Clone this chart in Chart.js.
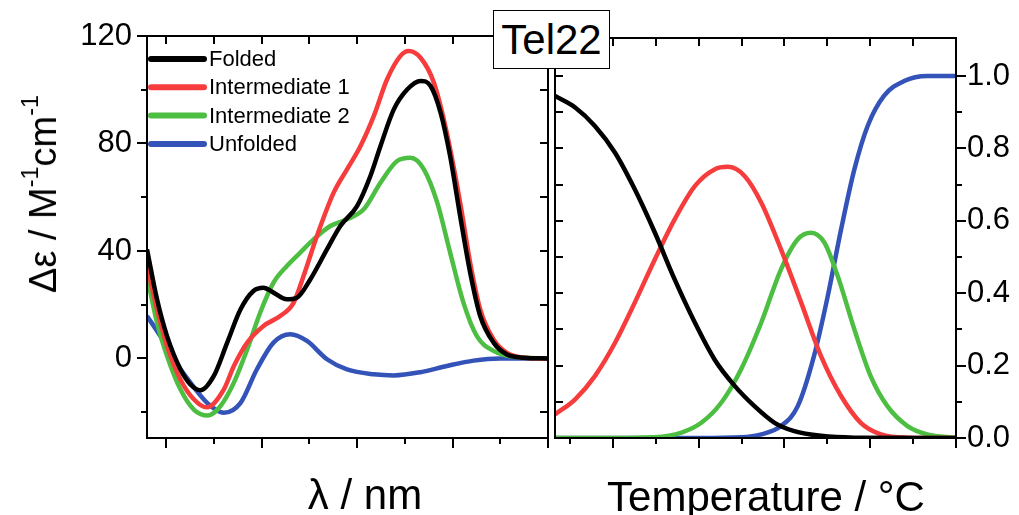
<!DOCTYPE html>
<html>
<head>
<meta charset="utf-8">
<script src="https://cdn.jsdelivr.net/npm/chart.js@4.4.1/dist/chart.umd.min.js"></script>
<style>
  html, body { margin: 0; padding: 0; background: #fff; }
  #wrap { position: relative; width: 1019px; height: 515px; overflow: hidden; font-family: 'Liberation Sans', Arial, sans-serif; color: #000; }
  #cdChart { position: absolute; left: 0; top: 0; }
  #meltChart { position: absolute; left: 552px; top: 0; }
  .lbl { position: absolute; white-space: nowrap; line-height: 1; }
  .lbl sup { font-size: 62%; vertical-align: 0.75em; line-height: 0; }
  #yTitle { left: 43px; top: 194px; font-size: 38px; transform: translate(-50%, -50%) rotate(-90deg); }
  #xTitleCd { left: 365px; top: 474px; font-size: 42px; transform: translateX(-50%); }
  #xTitleMelt { left: 766px; top: 476px; font-size: 42px; transform: translateX(-50%); }
  #tag { position: absolute; left: 493px; top: 10px; width: 115px; height: 57px; border: 1.5px solid #000; background: #fff;
         font-size: 42px; display: flex; align-items: center; justify-content: center; z-index: 2; }
</style>
</head>
<body>
<div id="wrap">
  <canvas id="cdChart" width="552" height="515"></canvas>
  <canvas id="meltChart" width="467" height="515"></canvas>
  <div class="lbl" id="yTitle">Δε / M<sup>-1</sup>cm<sup>-1</sup></div>
  <div class="lbl" id="xTitleCd">λ / nm</div>
  <div class="lbl" id="xTitleMelt">Temperature / °C</div>
  <div id="tag">Tel22</div>
</div>
<script>
// CD spectra (wavelength in nm, Δε in M-1 cm-1)
const cdFoldedNm = [226, 228.1, 230.2, 233, 235.1, 237.2, 240, 242.8, 245.6, 248.3, 250.4, 252.5, 255.3, 257.4, 260.2, 263.7, 266.5, 270, 272.8, 274.9, 277.7, 280.5, 283.3, 285.4, 287.5, 289.5, 291.6, 293.7, 295.8, 298.6, 301.4, 304.9, 310];
const cdFolded   = [40.6, 22, 8.3, -4, -9.7, -11.8, -6.5, 5.9, 18.3, 25.1, 26.3, 24.5, 22, 22.6, 29.4, 40.6, 49.3, 56.7, 67.9, 79, 92.7, 100.1, 103.3, 101.4, 91.5, 75.3, 53, 31.9, 15.8, 5.9, 1.5, 0.3, 0];
const cdInter1Nm = [226, 228.1, 230.2, 233, 235.8, 238.5, 242.1, 244.2, 247, 250.4, 253.9, 256.7, 258.8, 261.6, 265.1, 267.9, 270.7, 273.5, 276.3, 279.1, 280.8, 283.3, 286.1, 288.8, 291.6, 293.7, 295.8, 298.6, 301.4, 304.9, 310];
const cdInter1   = [34.4, 18.3, 4.6, -7.8, -15.2, -18.2, -11.5, -2.8, 5.9, 12.1, 15.8, 20.7, 30.7, 45.6, 61.7, 70.4, 79, 90.2, 103.9, 112.6, 114.4, 111.9, 102.6, 84, 58, 35.6, 18.3, 7.1, 2.1, 0.3, 0];
const cdInter2Nm = [226, 228.1, 230.2, 233, 235.8, 238.8, 241.4, 244.2, 247, 249.7, 252.5, 255.3, 258.1, 260.9, 264.4, 267.9, 271.4, 274.9, 278.4, 281.2, 284, 286.8, 289.5, 292.3, 295.1, 298.6, 302.8, 310];
const cdInter2   = [30.7, 13.3, 0.9, -11.5, -19, -21.2, -17.7, -9, 3.4, 17, 28.2, 34.4, 39.4, 44.3, 49.3, 51.8, 55.5, 65.4, 73.5, 74.7, 70.4, 58, 39.4, 20.7, 8.3, 2.8, 0.6, 0];
const cdUnfoldNm = [226, 228.8, 231.6, 235.1, 238.6, 242.1, 245.6, 249, 252.5, 256, 259.5, 263.7, 267.9, 273.5, 277.7, 283.3, 288.8, 294.4, 300, 310];
const cdUnfold   = [15.8, 8.3, -0.3, -9, -16.5, -20.2, -16.5, -4.1, 5.9, 9, 6.5, -0.3, -4.1, -5.9, -6.3, -5.1, -2.8, -0.8, 0, 0];

// Melting populations (temperature in °C, fraction)
const meltFoldedT = [6.5, 11.2, 15.8, 20.5, 25.1, 29.8, 34.4, 39.1, 43.7, 48.4, 53, 57.7, 62.3, 68.5, 76.3, 100];
const meltFolded  = [0.945, 0.913, 0.862, 0.788, 0.687, 0.567, 0.438, 0.319, 0.217, 0.144, 0.088, 0.042, 0.019, 0.006, 0.001, 0];
const meltInter1T = [6.5, 11.2, 15.8, 20.5, 25.1, 29.8, 34.4, 39.1, 43.7, 46.8, 50.7, 54.6, 59.2, 63.9, 68.5, 73.2, 77.8, 82.5, 88.7, 100];
const meltInter1  = [0.065, 0.107, 0.171, 0.263, 0.374, 0.494, 0.604, 0.696, 0.742, 0.749, 0.724, 0.65, 0.521, 0.374, 0.227, 0.116, 0.042, 0.01, 0.001, 0];
const meltInter2T = [6.5, 20, 29.8, 36, 40.6, 45.3, 49.9, 54.6, 59.2, 63.1, 66.2, 69.3, 72.4, 76.3, 80.1, 84, 88.7, 93.3, 100];
const meltInter2  = [0, 0, 0.002, 0.015, 0.042, 0.098, 0.19, 0.319, 0.466, 0.549, 0.567, 0.54, 0.448, 0.3, 0.171, 0.088, 0.033, 0.01, 0.001];
const meltUnfoldT = [6.5, 40, 49.9, 54.6, 59.2, 63.1, 66.9, 70.1, 73.2, 76.3, 79.4, 83.2, 87.9, 93.3, 100];
const meltUnfold  = [0, 0, 0.002, 0.01, 0.033, 0.088, 0.227, 0.392, 0.576, 0.742, 0.862, 0.945, 0.986, 1.0, 1.0];

const seriesNames = ['Folded', 'Intermediate 1', 'Intermediate 2', 'Unfolded'];
const seriesColors = ['#000000', '#f63c3c', '#4cbe42', '#3453b8'];

// axis ticks
const cdYLabels = [0, 40, 80, 120];
const cdYTicks = [-20, 0, 20, 40, 60, 80, 100, 120];
const cdXTicks = [230, 240, 250, 260, 270, 280, 290, 300, 310];
const cdXMajor = [230, 250, 270, 290, 310];
const meltYLabels = [0, 0.2, 0.4, 0.6, 0.8, 1.0];
const meltYTicks = [0, 0.1, 0.2, 0.3, 0.4, 0.5, 0.6, 0.7, 0.8, 0.9, 1.0];
const meltXTicks = [10, 20, 30, 40, 50, 60, 70, 80, 90, 100];
const meltXMajor = [20, 40, 60, 80, 100];

const zip = (xs, ys) => xs.map((x, i) => ({ x, y: ys[i] }));
const FONT = "'Liberation Sans', Arial, sans-serif";

function line(label, i, data) {
    return {
        label, data,
        borderColor: seriesColors[i],
        borderWidth: 4.5,
        pointRadius: 0,
        fill: false,
        cubicInterpolationMode: 'monotone',
    };
}

// box frame plus in/out tick marks, placed through the chart scales
const frameTicks = {
    id: 'frameTicks',
    afterDatasetsDraw(chart, args, o) {
        const { ctx, chartArea: a, scales: { x, y } } = chart;
        ctx.save();
        ctx.strokeStyle = '#000';
        ctx.lineWidth = 2;
        ctx.lineCap = 'butt';
        ctx.strokeRect(a.left, a.top, a.right - a.left, a.bottom - a.top);
        const seg = (x1, y1, x2, y2) => { ctx.beginPath(); ctx.moveTo(x1, y1); ctx.lineTo(x2, y2); ctx.stroke(); };
        o.xTicks.forEach((v) => {
            const px = Math.round(x.getPixelForValue(v));
            const len = o.xMajor.includes(v) ? 10 : 6;
            seg(px, a.bottom, px, a.bottom + len);
            seg(px, a.top, px, a.top + 8);
        });
        o.yTicks.forEach((v) => {
            const py = Math.round(y.getPixelForValue(v));
            const len = o.yMajor.includes(v) ? 10 : 6;
            if (o.outer === 'left') {
                seg(a.left - len, py, a.left, py);
                seg(a.right, py, a.right - 8, py);
            } else {
                seg(a.right, py, a.right + len, py);
                seg(a.left, py, a.left + 8, py);
            }
        });
        ctx.restore();
    },
};

const lineLegend = {
    id: 'lineLegend',
    afterDatasetsDraw(chart) {
        const { ctx, chartArea: a } = chart;
        ctx.save();
        ctx.font = '22px ' + FONT;
        ctx.textBaseline = 'middle';
        ctx.fillStyle = '#000';
        chart.data.datasets.forEach((ds, i) => {
            const yy = a.top + 23 + i * 28.3;
            ctx.strokeStyle = ds.borderColor;
            ctx.lineWidth = 6;
            ctx.lineCap = 'round';
            ctx.beginPath();
            ctx.moveTo(a.left + 4, yy);
            ctx.lineTo(a.left + 57, yy);
            ctx.stroke();
            ctx.fillText(ds.label, a.left + 62, yy + 1);
        });
        ctx.restore();
    },
};

const cdChart = new Chart(document.getElementById('cdChart'), {
    type: 'line',
    data: {
        datasets: [
            line(seriesNames[0], 0, zip(cdFoldedNm, cdFolded)),
            line(seriesNames[1], 1, zip(cdInter1Nm, cdInter1)),
            line(seriesNames[2], 2, zip(cdInter2Nm, cdInter2)),
            line(seriesNames[3], 3, zip(cdUnfoldNm, cdUnfold)),
        ],
    },
    options: {
        responsive: false,
        animation: false,
        layout: { padding: { left: 0, top: 36, right: 4, bottom: 0 } },
        plugins: {
            legend: { display: false },
            tooltip: { enabled: false },
            frameTicks: { xTicks: cdXTicks, xMajor: cdXMajor, yTicks: cdYTicks, yMajor: cdYLabels, outer: 'left' },
        },
        scales: {
            x: {
                type: 'linear', min: 226, max: 310,
                grid: { display: false, drawTicks: false },
                border: { display: false },
                ticks: { display: false },
                afterFit: (s) => { s.height = 77; },
            },
            y: {
                min: -29.6, max: 120,
                grid: { display: false, drawTicks: false },
                border: { display: false },
                afterBuildTicks: (s) => { s.ticks = cdYLabels.map((v) => ({ value: v })); },
                ticks: { color: '#000', padding: 15, font: { family: FONT, size: 31 } },
                afterFit: (s) => { s.width = 147; },
            },
        },
    },
    plugins: [frameTicks, lineLegend],
});

const meltChart = new Chart(document.getElementById('meltChart'), {
    type: 'line',
    data: {
        datasets: [
            line(seriesNames[0], 0, zip(meltFoldedT, meltFolded)),
            line(seriesNames[1], 1, zip(meltInter1T, meltInter1)),
            line(seriesNames[2], 2, zip(meltInter2T, meltInter2)),
            line(seriesNames[3], 3, zip(meltUnfoldT, meltUnfold)),
        ],
    },
    options: {
        responsive: false,
        animation: false,
        layout: { padding: { left: 3, top: 38, right: 0, bottom: 0 } },
        plugins: {
            legend: { display: false },
            tooltip: { enabled: false },
            frameTicks: { xTicks: meltXTicks, xMajor: meltXMajor, yTicks: meltYTicks, yMajor: meltYLabels, outer: 'right' },
        },
        scales: {
            x: {
                type: 'linear', min: 6.5, max: 100,
                grid: { display: false, drawTicks: false },
                border: { display: false },
                ticks: { display: false },
                afterFit: (s) => { s.height = 77; },
            },
            y: {
                position: 'right', min: 0, max: 1.105,
                grid: { display: false, drawTicks: false },
                border: { display: false },
                afterBuildTicks: (s) => { s.ticks = meltYLabels.map((v) => ({ value: v })); },
                ticks: { color: '#000', padding: 11, font: { family: FONT, size: 31 }, callback: (v) => Number(v).toFixed(1) },
                afterFit: (s) => { s.width = 63; },
            },
        },
    },
    plugins: [frameTicks],
});
</script>
</body>
</html>
